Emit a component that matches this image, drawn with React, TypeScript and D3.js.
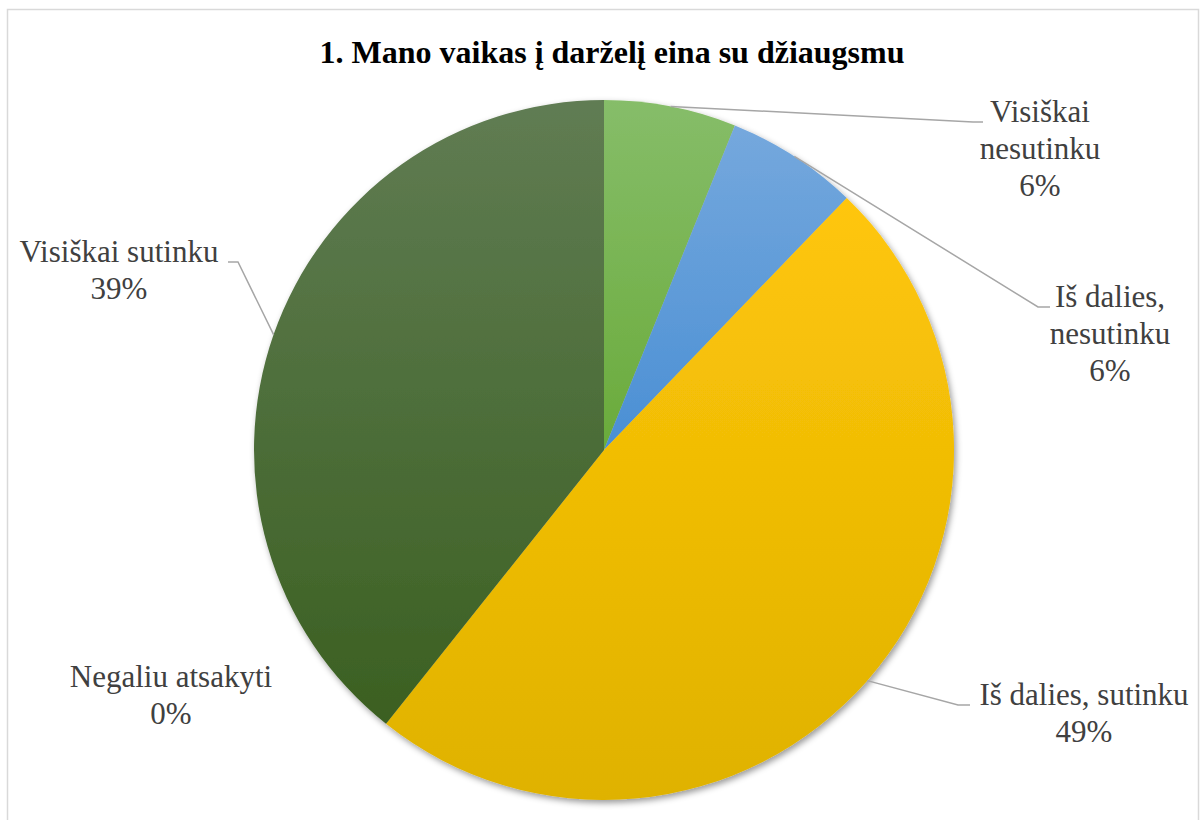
import React, { useEffect, useRef } from "react"
import * as d3 from "d3"

const title = "1. Mano vaikas į darželį eina su džiaugsmu"
// atsakymų kategorijos (pagal laikrodžio rodyklę nuo viršaus)
const categories = [
  "Visiškai nesutinku",
  "Iš dalies, nesutinku",
  "Iš dalies, sutinku",
  "Negaliu atsakyti",
  "Visiškai sutinku",
]
const shares = [6.1, 6.1, 48.5, 0, 39.3] // procentai
// etikečių eilutės
const labelLines = [
  ["Visiškai", "nesutinku"],
  ["Iš dalies,", "nesutinku"],
  ["Iš dalies, sutinku"],
  ["Negaliu atsakyti"],
  ["Visiškai sutinku"],
]
// gradientų spalvos: viršus -> apačia
const topColors = ["#86bd69", "#75a8dd", "#ffc60a", "#a5a5a5", "#607c53"]
const bottomColors = ["#6aab3b", "#4a8fd4", "#dfb200", "#8a8a8a", "#3b6021"]

const W = 1200
const H = 820
const cx = 604
const cy = 450
const R = 350
const fontSize = 31
const lineH = 37

// etikečių vieta: centras x, pirmos eilutės baseline, linijos lūžio taškas
const labelPos = [
  { x: 1040, y: 122, elbow: [973, 122], end: [983, 122] },
  { x: 1110, y: 307, elbow: [1038, 307], end: [1050, 307] },
  { x: 1084, y: 705, elbow: [958, 705], end: [970, 705] },
  { x: 171, y: 687, elbow: null, end: null },
  { x: 119, y: 262, elbow: [238, 262], end: [228, 262] },
]

export default function App() {
  const ref = useRef<SVGSVGElement>(null)

  useEffect(() => {
    const svg = d3.select(ref.current)
    svg.selectAll("*").remove()

    const defs = svg.append("defs")
    categories.forEach((_, i) => {
      const g = defs
        .append("linearGradient")
        .attr("id", "grad" + i)
        .attr("x1", 0)
        .attr("y1", 0)
        .attr("x2", 0)
        .attr("y2", 1)
      g.append("stop").attr("offset", "0%").attr("stop-color", topColors[i])
      g.append("stop").attr("offset", "100%").attr("stop-color", bottomColors[i])
    })
    defs
      .append("filter")
      .attr("id", "shadow")
      .attr("x", "-10%")
      .attr("y", "-10%")
      .attr("width", "120%")
      .attr("height", "120%")
      .append("feDropShadow")
      .attr("dx", 2)
      .attr("dy", 3)
      .attr("stdDeviation", 3)
      .attr("flood-color", "#000")
      .attr("flood-opacity", 0.4)

    svg
      .append("rect")
      .attr("x", 7.5)
      .attr("y", 9.5)
      .attr("width", 1191)
      .attr("height", 830)
      .attr("fill", "#fff")
      .attr("stroke", "#d9d9d9")
      .attr("stroke-width", 1.5)

    svg
      .append("text")
      .attr("x", 612)
      .attr("y", 63)
      .attr("text-anchor", "middle")
      .attr("font-family", "'Liberation Serif', 'Times New Roman', serif")
      .attr("font-weight", "bold")
      .attr("font-size", 32)
      .attr("fill", "#000")
      .text(title)

    const pie = d3
      .pie<number>()
      .sort(null)
      .value((d) => d)
    const arcs = pie(shares)
    const arc = d3.arc<d3.PieArcDatum<number>>().innerRadius(0).outerRadius(R)
    const edge = d3.arc<d3.PieArcDatum<number>>().innerRadius(R).outerRadius(R)

    const chart = svg.append("g").attr("transform", `translate(${cx},${cy})`)
    chart
      .append("g")
      .attr("filter", "url(#shadow)")
      .selectAll("path")
      .data(arcs)
      .join("path")
      .attr("d", arc)
      .attr("fill", (_, i) => `url(#grad${i})`)

    // linijos į etiketes
    arcs.forEach((a, i) => {
      const p = labelPos[i]
      if (!p.elbow || a.value === 0) return
      const [sx, sy] = edge.centroid(a)
      const pts: [number, number][] = [
        [sx + cx, sy + cy],
        p.elbow as [number, number],
        p.end as [number, number],
      ]
      svg
        .append("path")
        .attr("d", d3.line()(pts))
        .attr("fill", "none")
        .attr("stroke", "#a6a6a6")
        .attr("stroke-width", 1.5)
    })

    arcs.forEach((a, i) => {
      const p = labelPos[i]
      const lines = [...labelLines[i], Math.round(shares[i]) + "%"]
      const t = svg
        .append("text")
        .attr("text-anchor", "middle")
        .attr("font-family", "'Liberation Serif', 'Times New Roman', serif")
        .attr("font-size", fontSize)
        .attr("fill", "#404040")
      lines.forEach((l, j) => {
        t.append("tspan")
          .attr("x", p.x)
          .attr("y", p.y + j * lineH)
          .text(l)
      })
    })
  }, [])

  return (
    <div style={{ position: "fixed", left: 0, top: 0, width: W, height: H, background: "#fff" }}>
      <svg ref={ref} width={W} height={H} style={{ display: "block" }}></svg>
    </div>
  )
}
